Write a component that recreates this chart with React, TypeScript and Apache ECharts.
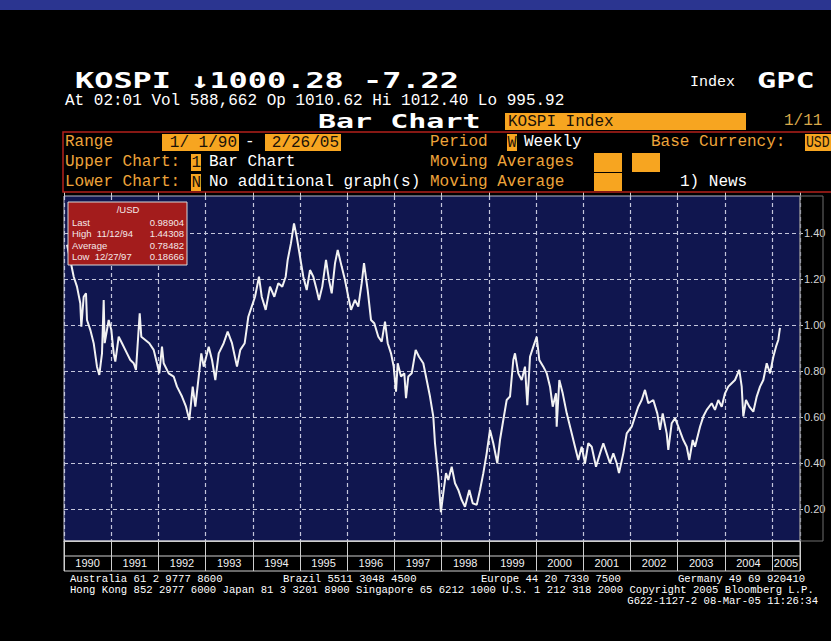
import React, { useEffect, useRef } from "react";
import * as echarts from "echarts";

// ---- data ----
const years = [1990, 1991, 1992, 1993, 1994, 1995, 1996, 1997, 1998, 1999, 2000, 2001, 2002, 2003, 2004, 2005];
const yTicks = [0.2, 0.4, 0.6, 0.8, 1.0, 1.2, 1.4];
const xMin = 1990;
const xMax = 2005.593;
const yMin = 0.062;
const yMax = 1.562;

const dates = [
  1990.064, 1990.133, 1990.206, 1990.275, 1990.345, 1990.367, 1990.417, 1990.466, 1990.487, 1990.557,
  1990.629, 1990.699, 1990.748, 1990.805, 1990.841, 1990.862, 1990.947, 1991.002, 1991.053, 1991.087,
  1991.159, 1991.229, 1991.335, 1991.405, 1991.477, 1991.525, 1991.604, 1991.638, 1991.723, 1991.807,
  1991.9, 1991.97, 1992.019, 1992.076, 1992.112, 1992.218, 1992.324, 1992.394, 1992.5, 1992.585,
  1992.655, 1992.727, 1992.782, 1992.854, 1992.909, 1992.96, 1993.066, 1993.136, 1993.206, 1993.278,
  1993.383, 1993.468, 1993.559, 1993.665, 1993.735, 1993.828, 1993.877, 1993.905, 1993.977, 1994.047,
  1994.131, 1994.189, 1994.273, 1994.364, 1994.456, 1994.54, 1994.625, 1994.697, 1994.739, 1994.809,
  1994.873, 1994.93, 1995.0, 1995.07, 1995.142, 1995.212, 1995.282, 1995.354, 1995.403, 1995.472,
  1995.551, 1995.614, 1995.672, 1995.742, 1995.799, 1995.883, 1995.953, 1996.023, 1996.081, 1996.165,
  1996.235, 1996.307, 1996.356, 1996.434, 1996.504, 1996.574, 1996.659, 1996.731, 1996.801, 1996.858,
  1996.928, 1996.985, 1997.034, 1997.07, 1997.14, 1997.21, 1997.246, 1997.294, 1997.367, 1997.451,
  1997.521, 1997.612, 1997.684, 1997.754, 1997.824, 1997.86, 1997.93, 1997.985, 1998.036, 1998.093,
  1998.142, 1998.214, 1998.284, 1998.354, 1998.426, 1998.496, 1998.587, 1998.659, 1998.744, 1998.814,
  1998.884, 1998.955, 1999.025, 1999.095, 1999.18, 1999.237, 1999.307, 1999.379, 1999.449, 1999.519,
  1999.555, 1999.625, 1999.697, 1999.767, 1999.816, 1999.873, 1999.943, 2000.015, 2000.07, 2000.155,
  2000.227, 2000.297, 2000.354, 2000.424, 2000.438, 2000.494, 2000.566, 2000.651, 2000.756, 2000.826,
  2000.896, 2000.968, 2001.038, 2001.108, 2001.18, 2001.271, 2001.356, 2001.426, 2001.498, 2001.568,
  2001.638, 2001.71, 2001.758, 2001.85, 2001.922, 2002.028, 2002.097, 2002.167, 2002.239, 2002.309,
  2002.379, 2002.485, 2002.57, 2002.627, 2002.684, 2002.769, 2002.803, 2002.875, 2002.945, 2003.015,
  2003.121, 2003.193, 2003.248, 2003.32, 2003.369, 2003.475, 2003.544, 2003.617, 2003.722, 2003.792,
  2003.862, 2003.934, 2004.004, 2004.074, 2004.146, 2004.216, 2004.307, 2004.358, 2004.392, 2004.449,
  2004.519, 2004.604, 2004.676, 2004.746, 2004.816, 2004.888, 2004.958, 2005.028, 2005.085, 2005.133,
  2005.169,
];

const values = [
  1.35, 1.284, 1.211, 1.168, 1.096, 0.994, 1.124, 1.139, 1.023, 0.98,
  0.922, 0.82, 0.784, 0.878, 1.11, 0.922, 1.023, 0.98, 0.878, 0.842,
  0.95, 0.922, 0.878, 0.849, 0.835, 0.806, 1.052, 0.95, 0.936, 0.922,
  0.893, 0.835, 0.791, 0.907, 0.835, 0.791, 0.777, 0.733, 0.69, 0.646,
  0.588, 0.733, 0.646, 0.777, 0.878, 0.82, 0.907, 0.849, 0.762, 0.878,
  0.922, 0.972, 0.922, 0.82, 0.893, 0.922, 0.994, 1.037, 1.081, 1.124,
  1.211, 1.124, 1.067, 1.168, 1.124, 1.183, 1.168, 1.211, 1.284, 1.357,
  1.443, 1.385, 1.298, 1.211, 1.153, 1.24, 1.211, 1.153, 1.11, 1.168,
  1.284, 1.197, 1.139, 1.27, 1.327, 1.255, 1.197, 1.124, 1.067, 1.11,
  1.081, 1.183, 1.27, 1.153, 1.023, 1.009, 0.95, 0.929, 1.016, 0.922,
  0.878, 0.82, 0.711, 0.835, 0.777, 0.791, 0.683, 0.777, 0.791, 0.893,
  0.863, 0.835, 0.762, 0.69, 0.603, 0.487, 0.342, 0.187, 0.27, 0.357,
  0.327, 0.385, 0.313, 0.284, 0.24, 0.211, 0.284, 0.226, 0.219, 0.284,
  0.357, 0.443, 0.545, 0.487, 0.4, 0.501, 0.588, 0.675, 0.69, 0.849,
  0.878, 0.791, 0.762, 0.82, 0.653, 0.863, 0.907, 0.95, 0.849, 0.82,
  0.791, 0.733, 0.646, 0.704, 0.559, 0.762, 0.704, 0.617, 0.53, 0.472,
  0.414, 0.472, 0.4, 0.487, 0.472, 0.385, 0.443, 0.487, 0.443, 0.4,
  0.443, 0.4, 0.357, 0.443, 0.53, 0.559, 0.603, 0.646, 0.675, 0.719,
  0.661, 0.675, 0.617, 0.545, 0.617, 0.53, 0.458, 0.574, 0.596, 0.559,
  0.501, 0.472, 0.414, 0.501, 0.472, 0.559, 0.603, 0.632, 0.661, 0.632,
  0.675, 0.646, 0.704, 0.733, 0.748, 0.762, 0.806, 0.733, 0.603, 0.675,
  0.646, 0.624, 0.69, 0.733, 0.762, 0.835, 0.791, 0.863, 0.907, 0.936,
  0.989,
];

const legendTitle = "/USD";
const legendLabels = ["Last", "High  11/12/94", "Average", "Low  12/27/97"];
const legendValues = ["0.98904", "1.44308", "0.78482", "0.18666"];

// ---- styling helpers ----
const ORANGE_TXT = "#eea43a";
const ORANGE_BOX = "#f7a520";
const MONO = "Liberation Mono";
const BOLDMONO = "DejaVu Sans Mono";

function T(x: number, y: number, text: string, o: any = {}) {
  const align = o.align ?? "left";
  return {
    type: "text",
    x,
    y,
    z: o.z ?? 50,
    scaleX: o.sx ?? 1,
    silent: true,
    style: {
      text,
      fill: o.fill ?? "#ffffff",
      fontSize: o.fs ?? 16,
      fontFamily: o.ff ?? MONO,
      fontWeight: o.fw ?? "normal",
      align,
      textAlign: align,
      verticalAlign: "middle",
      textVerticalAlign: "middle",
    },
  };
}
function R(x: number, y: number, w: number, h: number, fill: string, stroke?: string, lw = 1, z = 40) {
  return {
    type: "rect",
    z,
    silent: true,
    shape: { x, y, width: w, height: h },
    style: { fill, stroke: stroke ?? "none", lineWidth: lw },
  };
}
function L(x1: number, y1: number, x2: number, y2: number, stroke: string, lw = 1, z = 40) {
  return { type: "line", z, silent: true, shape: { x1, y1, x2, y2 }, style: { stroke, lineWidth: lw } };
}

export default function App() {
  const ref = useRef<HTMLDivElement>(null);

  useEffect(() => {
    if (!ref.current) return;
    const chart = echarts.init(ref.current, null, { renderer: "svg" });

    const yearLabelPos = years.map((y) => (y + Math.min(y + 1, xMax)) / 2);
    const gridDash = { color: "#c4c6dc", width: 1.2, type: [4, 3] as any };

    const graphic: any[] = [
      R(0, 0, 831, 10, "#2b3590", undefined, 1, 5),
      // header
      T(75, 80, "KOSPI \u21931000.28 -7.22", { ff: BOLDMONO, fw: "bold", fs: 22, sx: 1.45 }),
      T(690, 82, "Index", { fs: 15 }),
      T(757, 80, "GPC", { ff: BOLDMONO, fw: "bold", fs: 22, sx: 1.45 }),
      T(65, 101, "At 02:01 Vol 588,662 Op 1010.62 Hi 1012.40 Lo 995.92", { fs: 16, sx: 1.0 }),
      T(318, 121, "Bar Chart", { ff: BOLDMONO, fw: "bold", fs: 20, sx: 1.5 }),
      R(505, 113, 241, 17, ORANGE_BOX),
      T(508, 121.5, "KOSPI Index", { fs: 16, fill: "#1a1208" }),
      T(784, 121, "1/11", { fs: 16, fill: "#d8a84a" }),
      // settings frame
      R(63, 132, 800, 60, "none", "#b3201b", 1.5),
      // row 1
      T(65, 142, "Range", { fill: ORANGE_TXT }),
      R(162, 134, 77, 17, ORANGE_BOX),
      T(237, 142.5, "1/ 1/90", { fill: "#1a1208", align: "right" }),
      T(245, 142, "-", { fill: "#ffffff" }),
      R(265, 134, 76, 17, ORANGE_BOX),
      T(339, 142.5, "2/26/05", { fill: "#1a1208", align: "right" }),
      T(430, 142, "Period", { fill: ORANGE_TXT }),
      R(507, 134, 10, 17, ORANGE_BOX),
      T(507.5, 142.5, "W", { fill: "#1a1208", sx: 0.95 }),
      T(524, 142, "Weekly", { fill: "#ffffff" }),
      T(651, 142, "Base Currency:", { fill: ORANGE_TXT }),
      R(805, 134, 30, 17, ORANGE_BOX),
      T(806, 142.5, "USD", { fill: "#1a1208", sx: 0.82 }),
      // row 2
      T(65, 162, "Upper Chart:", { fill: ORANGE_TXT }),
      R(191, 154, 10, 17, ORANGE_BOX),
      T(191.5, 162.5, "1", { fill: "#1a1208" }),
      T(209, 162, "Bar Chart", { fill: "#ffffff" }),
      T(430, 162, "Moving Averages", { fill: ORANGE_TXT }),
      R(594, 153, 28, 19, ORANGE_BOX),
      R(632, 153, 28, 19, ORANGE_BOX),
      // row 3
      T(65, 182, "Lower Chart:", { fill: ORANGE_TXT }),
      R(191, 174, 10, 17, ORANGE_BOX),
      T(191.5, 182.5, "N", { fill: "#1a1208" }),
      T(209, 182, "No additional graph(s)", { fill: "#ffffff" }),
      T(430, 182, "Moving Average", { fill: ORANGE_TXT }),
      R(594, 173, 28, 18, ORANGE_BOX),
      T(680, 182, "1) News", { fill: "#ffffff" }),
      // right label column and year box
      R(800, 196, 23, 345, "none", "#6f6f6f", 1, 30),
      R(64, 541, 736, 30, "none", "#cfcfcf", 1, 30),
      L(64, 556, 800, 556, "#cfcfcf", 1, 30),
      // legend box
      R(68, 202, 119, 63, "#a31c1c", "#d8d8d8", 1, 100),
      T(128, 209.5, legendTitle, { ff: "Liberation Sans", fs: 9.5, align: "center", fill: "#f3e8e8", z: 101 }),
      ...legendLabels.map((s, i) =>
        T(72, 222 + i * 11.5, s, { ff: "Liberation Sans", fs: 9.5, fill: "#f3e8e8", z: 101 })
      ),
      ...legendValues.map((s, i) =>
        T(184, 222 + i * 11.5, s, { ff: "Liberation Sans", fs: 9.5, fill: "#f3e8e8", align: "right", z: 101 })
      ),
      // footer
      T(70, 579, "Australia 61 2 9777 8600", { fs: 10.6 }),
      T(283, 579, "Brazil 5511 3048 4500", { fs: 10.6 }),
      T(481, 579, "Europe 44 20 7330 7500", { fs: 10.6 }),
      T(678, 579, "Germany 49 69 920410", { fs: 10.6 }),
      T(70, 590, "Hong Kong 852 2977 6000 Japan 81 3 3201 8900 Singapore 65 6212 1000 U.S. 1 212 318 2000 Copyright 2005 Bloomberg L.P.", { fs: 10.6 }),
      T(818, 601, "G622-1127-2 08-Mar-05 11:26:34", { fs: 10.6, align: "right" }),
    ];

    chart.setOption({
      animation: false,
      backgroundColor: "#000000",
      grid: {
        left: 64,
        top: 196,
        width: 736,
        height: 345,
        show: true,
        backgroundColor: "#10164f",
        borderColor: "#b8b8c8",
        borderWidth: 1,
      },
      xAxis: [
        {
          type: "value",
          min: xMin,
          max: xMax,
          interval: 1,
          position: "bottom",
          axisLine: { show: true, lineStyle: { color: "#cfcfcf", width: 1 } },
          axisTick: { show: true, length: 30, lineStyle: { color: "#cfcfcf", width: 1 } },
          splitLine: { show: true, lineStyle: gridDash },
          axisLabel: {
            customValues: yearLabelPos,
            formatter: (v: number) => String(Math.floor(v)),
            color: "#f2f2f2",
            fontSize: 11,
            fontFamily: "Liberation Sans",
            margin: 16,
          },
        },
        {
          type: "value",
          min: xMin,
          max: xMax,
          interval: 1,
          position: "top",
          axisLine: { show: false },
          axisTick: { show: true, length: 4, lineStyle: { color: "#cfcfcf" } },
          splitLine: { show: false },
          axisLabel: { show: false },
        },
      ],
      yAxis: {
        type: "value",
        min: yMin,
        max: yMax,
        position: "right",
        axisLine: { show: false },
        splitLine: { show: false },
        axisTick: { show: true, customValues: yTicks, length: 3, lineStyle: { color: "#c8c8c8" } },
        axisLabel: {
          customValues: yTicks,
          formatter: (v: number) => v.toFixed(2),
          color: "#d4d4d4",
          fontSize: 11,
          fontFamily: "Liberation Sans",
          margin: 4,
        },
      },
      series: [
        {
          type: "line",
          xAxisIndex: 0,
          data: dates.map((d, i) => [d, values[i]]),
          showSymbol: false,
          symbol: "none",
          lineStyle: { color: "#f2f2f2", width: 2 },
          z: 5,
          markLine: {
            silent: true,
            symbol: ["none", "none"],
            label: { show: false },
            lineStyle: gridDash,
            data: yTicks.map((v) => ({ yAxis: v })),
            z: 1,
          },
        },
      ],
      graphic,
    });

    return () => chart.dispose();
  }, []);

  return (
    <div
      ref={ref}
      style={{ position: "absolute", left: 0, top: 0, width: 831, height: 641, background: "#000" }}
    />
  );
}
